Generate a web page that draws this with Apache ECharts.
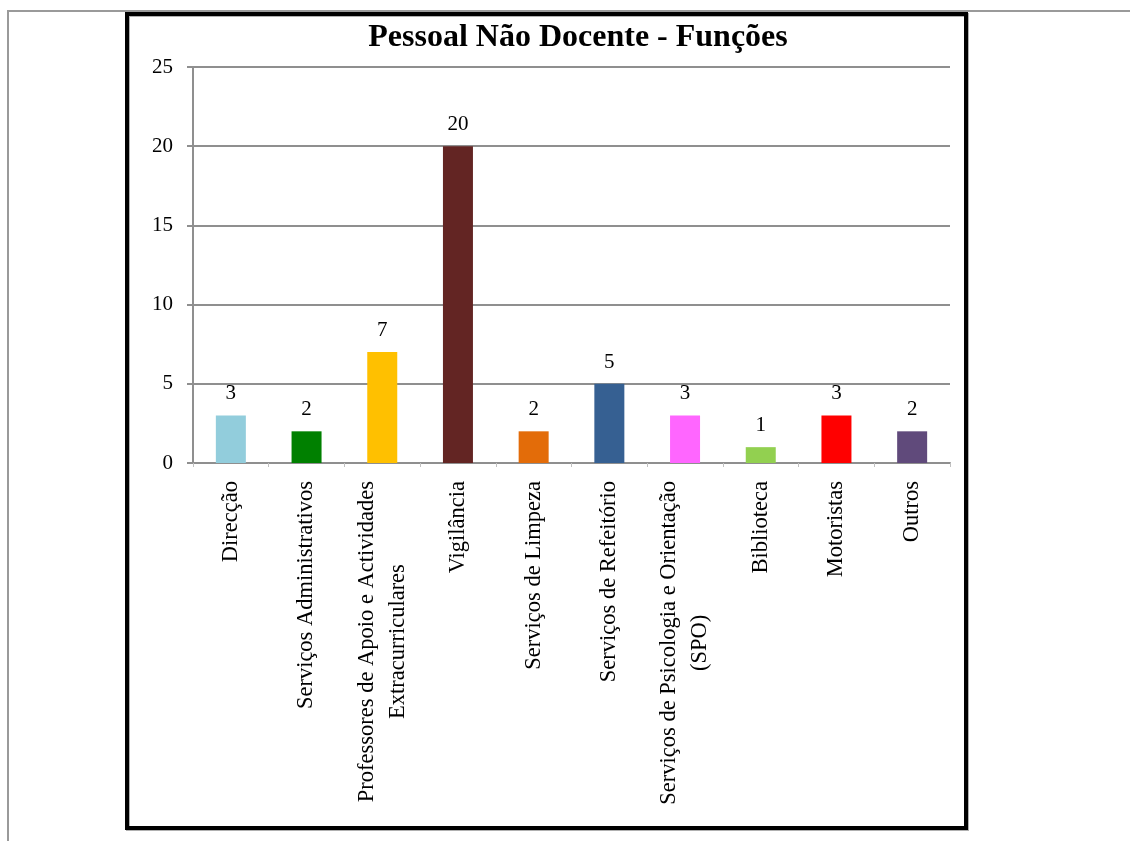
<!DOCTYPE html>
<html>
<head>
<meta charset="utf-8">
<script src="https://cdn.jsdelivr.net/npm/echarts@6/dist/echarts.min.js"></script>
<style>
  html, body { margin: 0; padding: 0; background: #fff; }
  #chart { width: 1130px; height: 841px; }
</style>
</head>
<body>
<div id="chart"></div>
<script>
// Staff functions (non-teaching personnel)
const categories = [
  'Direcção',
  'Serviços Administrativos',
  'Professores de Apoio e Actividades\nExtracurriculares',
  'Vigilância',
  'Serviços de Limpeza',
  'Serviços de Refeitório',
  'Serviços de Psicologia e Orientação\n(SPO)',
  'Biblioteca',
  'Motoristas',
  'Outros'
];
const values = [3, 2, 7, 20, 2, 5, 3, 1, 3, 2];
const barColors = [
  '#92CDDC', '#008000', '#FFC000', '#632523', '#E36C09',
  '#366092', '#FF66FF', '#92D050', '#FF0000', '#604A7B'
];
const yTicks = { min: 0, max: 25, interval: 5 };

const serif = '"Liberation Serif", "Times New Roman", serif';
const chart = echarts.init(document.getElementById('chart'), null, { renderer: 'canvas' });

chart.setOption({
  backgroundColor: '#ffffff',
  animation: false,
  title: {
    text: 'Pessoal Não Docente - Funções',
    left: 573,
    top: 17,
    textAlign: 'center',
    textStyle: { fontFamily: serif, fontWeight: 'bold', fontSize: 32, color: '#000' }
  },
  graphic: [
    // page rules
    { type: 'line', shape: { x1: 7, y1: 11, x2: 1130, y2: 11 }, style: { stroke: '#9a9a9a', lineWidth: 2 }, z: 1 },
    { type: 'line', shape: { x1: 8, y1: 10, x2: 8, y2: 841 }, style: { stroke: '#9a9a9a', lineWidth: 2 }, z: 1 },
    // chart frame
    { type: 'rect', shape: { x: 128, y: 15, width: 839, height: 814 }, style: { fill: 'none', stroke: '#b0b0b0', lineWidth: 4 }, z: 1 },
    { type: 'rect', shape: { x: 127, y: 14, width: 839, height: 814 }, style: { fill: 'none', stroke: '#000', lineWidth: 4 }, z: 2 }
  ],
  grid: { left: 193, right: 180, top: 67, bottom: 378, containLabel: false },
  xAxis: {
    type: 'category',
    data: categories,
    axisLine: { lineStyle: { color: '#8f8f8f', width: 2 } },
    axisTick: { show: true, alignWithLabel: false, length: 4, lineStyle: { color: '#c0c0c0', width: 1 } },
    axisLabel: {
      interval: 0,
      rotate: 90,
      margin: 18,
      color: '#000',
      fontFamily: serif,
      fontSize: 22.5,
      formatter: v => v.split('\n').map(l => '{c|' + l + '}').join('\n'),
      rich: {
        c: { align: 'center', fontFamily: serif, fontSize: 22.5, lineHeight: 31, color: '#000' }
      }
    }
  },
  yAxis: {
    type: 'value',
    min: yTicks.min,
    max: yTicks.max,
    interval: yTicks.interval,
    axisLine: { show: true, lineStyle: { color: '#8f8f8f', width: 2 } },
    axisTick: { show: true, length: 6, lineStyle: { color: '#8f8f8f', width: 2 } },
    axisLabel: { margin: 20, color: '#000', fontFamily: serif, fontSize: 21 },
    splitLine: { show: true, lineStyle: { color: '#8f8f8f', width: 2 } }
  },
  series: [{
    type: 'bar',
    barWidth: 30,
    data: values.map((v, i) => ({ value: v, itemStyle: { color: barColors[i] } })),
    label: {
      show: true,
      position: 'top',
      distance: 11,
      color: '#000',
      fontFamily: serif,
      fontSize: 21
    }
  }]
});
</script>
</body>
</html>
